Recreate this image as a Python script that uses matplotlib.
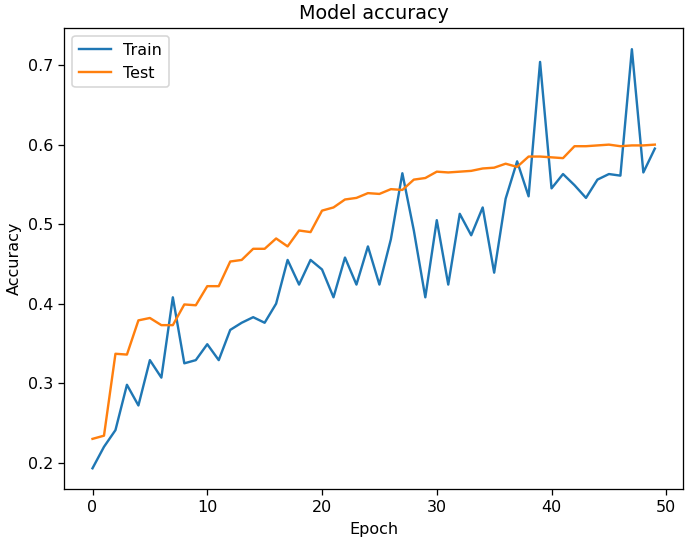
import matplotlib.pyplot as plt

# Training history (accuracy per epoch)
epochs = list(range(50))
train_acc = [0.193, 0.220, 0.241, 0.298, 0.272, 0.329, 0.307, 0.408, 0.325, 0.329,
             0.349, 0.329, 0.367, 0.376, 0.383, 0.376, 0.400, 0.455, 0.424, 0.455,
             0.443, 0.408, 0.458, 0.424, 0.472, 0.424, 0.481, 0.564, 0.492, 0.408,
             0.505, 0.424, 0.513, 0.486, 0.521, 0.439, 0.532, 0.579, 0.535, 0.704,
             0.545, 0.563, 0.549, 0.533, 0.556, 0.563, 0.561, 0.720, 0.565, 0.595]
test_acc = [0.230, 0.234, 0.337, 0.336, 0.379, 0.382, 0.373, 0.373, 0.399, 0.398,
            0.422, 0.422, 0.453, 0.455, 0.469, 0.469, 0.482, 0.472, 0.492, 0.490,
            0.517, 0.521, 0.531, 0.533, 0.539, 0.538, 0.544, 0.543, 0.556, 0.558,
            0.566, 0.565, 0.566, 0.567, 0.570, 0.571, 0.576, 0.572, 0.585, 0.585,
            0.584, 0.583, 0.598, 0.598, 0.599, 0.600, 0.598, 0.599, 0.599, 0.600]

dpi = 115
fig = plt.figure(figsize=(685 / dpi, 543 / dpi), dpi=dpi)
plt.subplots_adjust(left=0.094, right=0.997, bottom=0.099, top=0.948)
plt.plot(epochs, train_acc, label='Train')
plt.plot(epochs, test_acc, label='Test')
plt.title('Model accuracy')
plt.xlabel('Epoch')
plt.ylabel('Accuracy')
plt.legend(loc='upper left')
plt.savefig('out.png', dpi=dpi)
plt.close()
